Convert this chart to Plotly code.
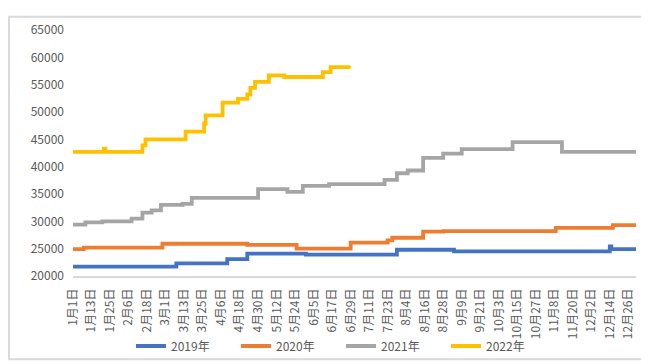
import datetime
import plotly.graph_objects as go

# category axis: every day of a leap year, labelled "M月D日"
start = datetime.date(2020, 1, 1)
days = [start + datetime.timedelta(days=i) for i in range(366)]
categories = [f"{d.month}月{d.day}日" for d in days]
tick_labels = categories[::12]

y_ticks = [20000, 25000, 30000, 35000, 40000, 45000, 50000, 55000, 60000, 65000]

# step change points (date, price)
x2019 = ["1月1日", "3月8日", "4月10日", "4月23日", "5月31日", "7月29日", "9月4日",
         "12月14日", "12月15日", "12月31日"]
y2019 = [21700, 22300, 23100, 24100, 23900, 24800, 24500, 25400, 24900, 24900]

x2020 = ["1月1日", "1月8日", "2月28日", "4月23日", "5月25日", "6月29日", "7月23日",
         "7月26日", "8月15日", "8月28日", "11月9日", "12月16日", "12月31日"]
y2020 = [24900, 25200, 25900, 25700, 25000, 26100, 26500, 27000, 28100, 28200,
         28800, 29300, 29300]

x2021 = ["1月1日", "1月9日", "1月20日", "2月8日", "2月15日", "2月21日", "2月27日",
         "3月12日", "3月18日", "4月30日", "5月19日", "5月29日", "6月15日", "7月21日",
         "7月29日", "8月5日", "8月15日", "8月28日", "9月9日", "10月12日", "11月13日",
         "12月31日"]
y2021 = [29400, 29800, 30000, 30500, 31600, 32000, 33000, 33200, 34300, 35900,
         35400, 36500, 36800, 37600, 38800, 39300, 41600, 42400, 43200, 44500,
         42700, 42700]

x2022 = ["1月1日", "1月21日", "1月22日", "2月15日", "2月17日", "3月14日", "3月26日",
         "3月27日", "4月7日", "4月17日", "4月23日", "4月25日", "4月28日", "5月7日",
         "5月17日", "6月11日", "6月16日", "6月29日"]
y2022 = [42700, 43300, 42700, 43900, 45000, 46400, 47900, 49400, 51700, 52400,
         53200, 54400, 55500, 56700, 56400, 57300, 58200, 58200]

series = [
    ("2019年", x2019, y2019, "#4472C4"),
    ("2020年", x2020, y2020, "#ED7D31"),
    ("2021年", x2021, y2021, "#A5A5A5"),
    ("2022年", x2022, y2022, "#FFC000"),
]

FONT = "Noto Sans CJK SC, Noto Sans, sans-serif"
TXT = "#595959"

fig = go.Figure()
for name, xs, ys, color in series:
    fig.add_trace(go.Scatter(
        x=xs, y=ys, name=name, mode="lines",
        line=dict(color=color, width=3.8, shape="hv"),
    ))

L, R, T, B = 65, 21, 15, 89
W, H = 649, 364
pw, ph = W - L - R, H - T - B

fig.update_layout(
    width=W, height=H, autosize=False,
    margin=dict(l=L, r=R, t=T, b=B),
    paper_bgcolor="white", plot_bgcolor="white",
    font=dict(family=FONT, size=12, color=TXT),
    showlegend=True,
    legend=dict(
        orientation="h", x=0.476, xanchor="center",
        y=(T + ph - 349) / ph, yanchor="middle",
        font=dict(family=FONT, size=12, color=TXT),
        entrywidth=60, bgcolor="rgba(0,0,0,0)",
    ),
    xaxis=dict(
        type="category", categoryorder="array", categoryarray=categories,
        range=[0, 365], tickmode="array", tickvals=tick_labels, ticktext=tick_labels,
        tickangle=-90, showgrid=False, zeroline=False,
        showline=True, linecolor="#D9D9D9", linewidth=1.5,
        ticks="", ticklabelstandoff=6,
        tickfont=dict(family=FONT, size=12, color=TXT),
    ),
    yaxis=dict(
        range=[20000, 65000], tickmode="array",
        tickvals=y_ticks, ticktext=[str(v) for v in y_ticks],
        showgrid=False, zeroline=False, showline=False, ticks="",
        ticklabelstandoff=8,
        tickfont=dict(family=FONT, size=12, color=TXT),
    ),
    shapes=[dict(
        type="rect", xref="paper", yref="paper",
        x0=(1 - L) / pw, x1=(W - 1 - L) / pw,
        y0=(T + ph - (H - 1)) / ph, y1=(T + ph - 1) / ph,
        line=dict(color="#D9D9D9", width=2), fillcolor="rgba(0,0,0,0)",
        layer="below",
    )],
)

fig.write_html("out.html")
